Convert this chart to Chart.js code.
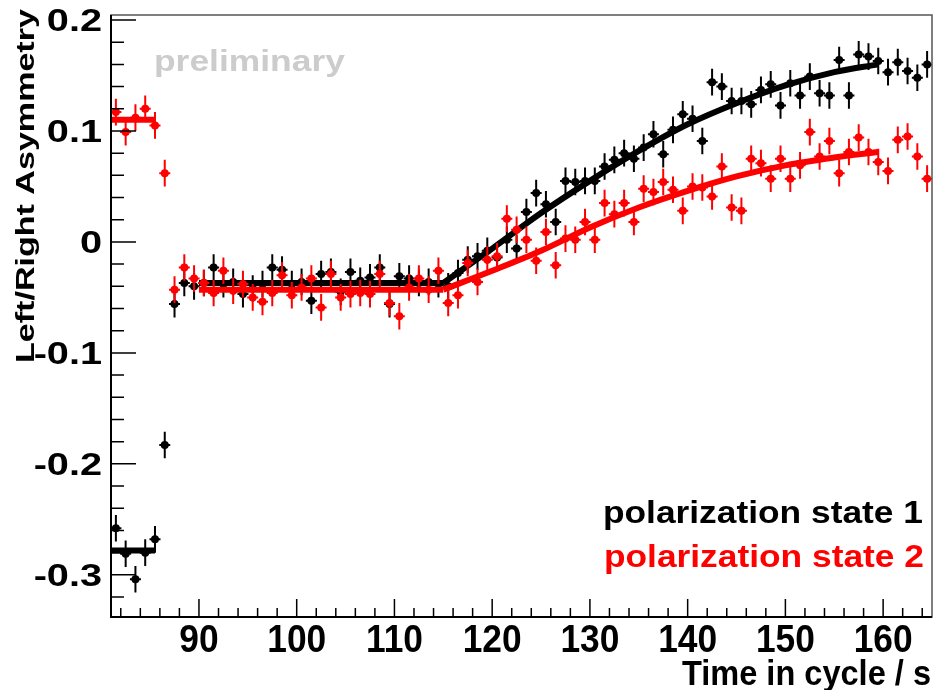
<!DOCTYPE html>
<html>
<head>
<meta charset="utf-8">
<script src="https://cdn.jsdelivr.net/npm/chart.js@4.4.1/dist/chart.umd.min.js"></script>
<style>
  html, body { margin: 0; padding: 0; background: #fff; }
  #wrap { width: 936px; height: 690px; position: relative; }
</style>
</head>
<body>
<div id="wrap"><canvas id="asym-chart"></canvas></div>
<script>
// time bins (s)
var times = [81.5, 82.5, 83.5, 84.5, 85.5, 86.5, 87.5, 88.5, 89.5, 90.5,
  91.5, 92.5, 93.5, 94.5, 95.5, 96.5, 97.5, 98.5, 99.5, 100.5,
  101.5, 102.5, 103.5, 104.5, 105.5, 106.5, 107.5, 108.5, 109.5, 110.5,
  111.5, 112.5, 113.5, 114.5, 115.5, 116.5, 117.5, 118.5, 119.5, 120.5,
  121.5, 122.5, 123.5, 124.5, 125.5, 126.5, 127.5, 128.5, 129.5, 130.5,
  131.5, 132.5, 133.5, 134.5, 135.5, 136.5, 137.5, 138.5, 139.5, 140.5,
  141.5, 142.5, 143.5, 144.5, 145.5, 146.5, 147.5, 148.5, 149.5, 150.5,
  151.5, 152.5, 153.5, 154.5, 155.5, 156.5, 157.5, 158.5, 159.5, 160.5,
  161.5, 162.5, 163.5, 164.5];

// polarization state 1 (black)
var state1 = [-0.258, -0.281, -0.304, -0.280, -0.268, -0.183, -0.056, -0.037, -0.040, -0.037,
  -0.023, -0.038, -0.036, -0.047, -0.042, -0.038, -0.023, -0.025, -0.038, -0.036,
  -0.053, -0.029, -0.027, -0.045, -0.027, -0.035, -0.032, -0.023, -0.056, -0.031,
  -0.033, -0.037, -0.036, -0.038, -0.040, -0.028, -0.016, -0.013, -0.008, -0.014,
  0.002, -0.006, 0.027, 0.044, 0.034, 0.018, 0.055, 0.054, 0.055, 0.055,
  0.068, 0.074, 0.080, 0.075, 0.085, 0.097, 0.079, 0.101, 0.115, 0.111,
  0.091, 0.144, 0.140, 0.127, 0.127, 0.124, 0.137, 0.142, 0.123, 0.143,
  0.132, 0.149, 0.134, 0.132, 0.164, 0.132, 0.169, 0.167, 0.163, 0.153,
  0.162, 0.154, 0.148, 0.160];

// polarization state 2 (red)
var state2 = [0.117, 0.099, 0.112, 0.120, 0.105, 0.062, -0.043, -0.023, -0.033, -0.037,
  -0.046, -0.026, -0.044, -0.038, -0.050, -0.054, -0.046, -0.030, -0.048, -0.041,
  -0.033, -0.059, -0.029, -0.050, -0.047, -0.046, -0.047, -0.029, -0.055, -0.067,
  -0.041, -0.033, -0.043, -0.026, -0.055, -0.048, -0.019, -0.036, -0.016, -0.013,
  0.021, 0.011, 0.002, -0.017, 0.009, -0.021, 0.003, 0.002, 0.018, 0.002,
  0.035, 0.025, 0.035, 0.018, 0.048, 0.045, 0.054, 0.047, 0.028, 0.050,
  0.049, 0.041, 0.068, 0.031, 0.028, 0.075, 0.071, 0.057, 0.075, 0.057,
  0.069, 0.099, 0.077, 0.091, 0.062, 0.081, 0.094, 0.081, 0.072, 0.064,
  0.092, 0.095, 0.077, 0.057];

var errY = 0.012;

// fit curves
var fitEarlyX = [81, 85.5];
var fit1Early = [-0.278, -0.278];
var fit2Early = [0.110, 0.110];

var fitFlatX = [90, 115];
var fit1Flat = [-0.037, -0.037];
var fit2Flat = [-0.043, -0.043];

var fitRiseX = [115, 120, 125, 130, 135, 140, 145, 150, 155, 159.5];
var fit1Rise = [-0.037, -0.006, 0.026, 0.055, 0.082, 0.106, 0.125, 0.141, 0.153, 0.160];
var fit2Rise = [-0.043, -0.026, -0.008, 0.013, 0.031, 0.046, 0.059, 0.069, 0.076, 0.081];

var xTicks = [90, 100, 110, 120, 130, 140, 150, 160];
var yTicks = [-0.3, -0.2, -0.1, 0, 0.1, 0.2];
var yTickLabels = ['-0.3', '-0.2', '-0.1', '0', '0.1', '0.2'];

function pts(xs, ys) {
  return xs.map(function (x, i) { return { x: x, y: ys[i] }; });
}

function fitLine(xs, ys, color, curved) {
  return {
    type: 'line', data: pts(xs, ys), borderColor: color, borderWidth: 6,
    borderCapStyle: 'butt', pointRadius: 0, fill: false,
    cubicInterpolationMode: curved ? 'monotone' : 'default', order: color === '#ff0000' ? 1 : 3
  };
}

function drawText(ctx, str, x, y, size, sx, align, color, rot) {
  ctx.save();
  ctx.font = 'bold ' + size + 'px "Liberation Sans", Arial, sans-serif';
  ctx.fillStyle = color;
  ctx.textBaseline = 'alphabetic';
  ctx.textAlign = align;
  ctx.translate(x, y);
  if (rot) ctx.rotate(rot);
  ctx.scale(sx, 1);
  ctx.fillText(str, 0, 0);
  ctx.restore();
}

var errorBars = {
  id: 'errorBars',
  beforeDatasetDraw: function (chart, args) {
    var ds = chart.data.datasets[args.index];
    if (!ds.errorY) return;
    var ctx = chart.ctx, ys = chart.scales.y, a = chart.chartArea;
    ctx.save();
    ctx.beginPath();
    ctx.rect(a.left, a.top, a.right - a.left, a.bottom - a.top);
    ctx.clip();
    ctx.strokeStyle = ds.pointBackgroundColor;
    ctx.lineWidth = 2;
    args.meta.data.forEach(function (pt, i) {
      var v = ds.data[i].y;
      ctx.beginPath();
      ctx.moveTo(pt.x, ys.getPixelForValue(v + ds.errorY));
      ctx.lineTo(pt.x, ys.getPixelForValue(v - ds.errorY));
      ctx.moveTo(pt.x - 5.5, pt.y);
      ctx.lineTo(pt.x + 5.5, pt.y);
      ctx.stroke();
    });
    ctx.restore();
  }
};

var rootFrame = {
  id: 'rootFrame',
  afterDraw: function (chart) {
    var ctx = chart.ctx, a = chart.chartArea, xs = chart.scales.x, ys = chart.scales.y;
    ctx.save();
    ctx.strokeStyle = '#555';
    ctx.lineWidth = 1.5;
    ctx.strokeRect(a.left, a.top, a.right - a.left, a.bottom - a.top);
    ctx.strokeStyle = '#000';
    ctx.lineWidth = 2;
    ctx.beginPath();
    ctx.moveTo(a.left, a.top); ctx.lineTo(a.left, a.bottom); ctx.lineTo(a.right, a.bottom);
    ctx.stroke();

    // y ticks
    ctx.lineWidth = 1.5;
    ctx.beginPath();
    for (var v = -0.32; v <= 0.2001; v += 0.02) {
      var py = ys.getPixelForValue(v);
      var major = Math.abs(v * 10 - Math.round(v * 10)) < 1e-6;
      ctx.moveTo(a.left, py); ctx.lineTo(a.left + (major ? 25 : 13), py);
    }
    // x ticks
    for (var t = 82; t <= 164; t += 2) {
      var px = xs.getPixelForValue(t);
      ctx.moveTo(px, a.bottom); ctx.lineTo(px, a.bottom - (t % 10 === 0 ? 18 : 9));
    }
    ctx.stroke();
    ctx.restore();

    yTicks.forEach(function (v, i) {
      drawText(ctx, yTickLabels[i], 102, ys.getPixelForValue(v) + 11, 31, 1.28, 'right', '#000');
    });
    xTicks.forEach(function (v) {
      drawText(ctx, String(v), xs.getPixelForValue(v), 652, 38, 0.93, 'center', '#000');
    });
    drawText(ctx, 'Time in cycle / s', 931, 685, 35, 0.93, 'right', '#000');
    drawText(ctx, 'Left/Right Asymmetry', 34, 363, 26, 1.31, 'left', '#000', -Math.PI / 2);
    drawText(ctx, 'preliminary', 154, 71, 30, 1.18, 'left', '#cccccc');
    drawText(ctx, 'polarization state 1', 923, 523, 31, 1.14, 'right', '#000');
    drawText(ctx, 'polarization state 2', 924, 567, 31, 1.14, 'right', '#ff0000');
  }
};

new Chart(document.getElementById('asym-chart'), {
  type: 'scatter',
  data: {
    datasets: [
      { label: 'polarization state 1', data: pts(times, state1), errorY: errY,
        pointRadius: 4, pointBorderWidth: 0, pointBackgroundColor: '#000000', pointBorderColor: '#000000', order: 4 },
      fitLine(fitEarlyX, fit1Early, '#000000', false),
      fitLine(fitFlatX, fit1Flat, '#000000', false),
      fitLine(fitRiseX, fit1Rise, '#000000', true),
      { label: 'polarization state 2', data: pts(times, state2), errorY: errY,
        pointRadius: 4, pointBorderWidth: 0, pointBackgroundColor: '#ff0000', pointBorderColor: '#ff0000', order: 2 },
      fitLine(fitEarlyX, fit2Early, '#ff0000', false),
      fitLine(fitFlatX, fit2Flat, '#ff0000', false),
      fitLine(fitRiseX, fit2Rise, '#ff0000', true)
    ]
  },
  options: {
    responsive: true,
    maintainAspectRatio: false,
    animation: false,
    layout: { padding: { left: 111, right: 2, top: 15, bottom: 73 } },
    plugins: { legend: { display: false }, tooltip: { enabled: false } },
    scales: {
      x: { type: 'linear', min: 81, max: 165, display: false },
      y: { type: 'linear', min: -0.338, max: 0.2045, display: false }
    }
  },
  plugins: [errorBars, rootFrame]
});
</script>
</body>
</html>
